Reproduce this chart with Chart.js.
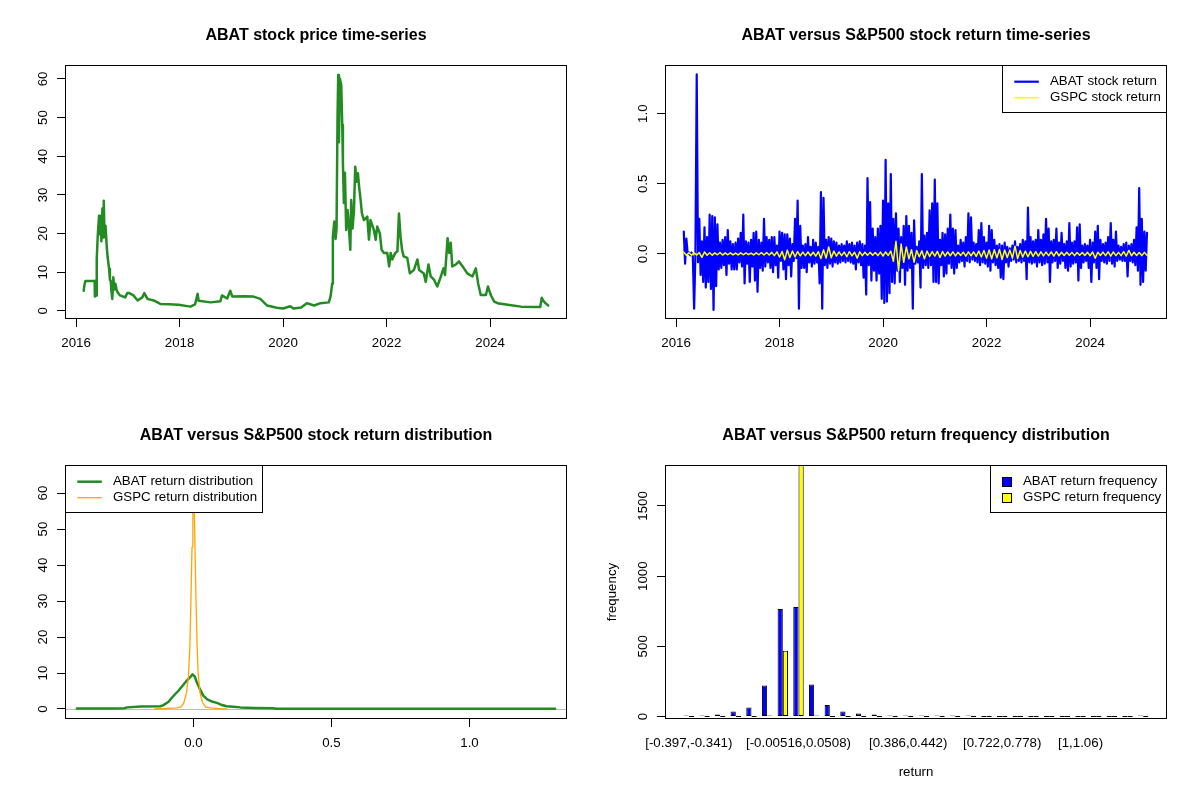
<!DOCTYPE html>
<html>
<head>
<meta charset="utf-8">
<script src="https://cdn.jsdelivr.net/npm/chart.js@4.4.1/dist/chart.umd.min.js"></script>
<style>
html,body{margin:0;padding:0;background:#fff;}
#wrap{position:relative;width:1200px;height:800px;background:#fff;}
#wrap canvas{position:absolute;}
</style>
</head>
<body>
<div id="wrap">
<canvas id="c1" width="600" height="400" style="left:0;top:0;width:600px;height:400px"></canvas>
<canvas id="c2" width="600" height="400" style="left:600px;top:0;width:600px;height:400px"></canvas>
<canvas id="c3" width="600" height="400" style="left:0;top:400px;width:600px;height:400px"></canvas>
<canvas id="c4" width="600" height="400" style="left:600px;top:400px;width:600px;height:400px"></canvas>
</div>
<script>
// ---------------- DATA ----------------
// Panel 1: ABAT stock price (dates as decimal years)
const priceYears = [2016.149,2016.16,2016.18,2016.36,2016.365,2016.39,2016.40,2016.42,2016.445,2016.46,2016.475,2016.49,2016.51,2016.525,2016.536,2016.55,2016.57,2016.594,2016.61,2016.639,2016.655,2016.67,2016.685,2016.70,2016.715,2016.72,2016.74,2016.76,2016.788,2016.82,2016.85,2016.95,2016.99,2017.03,2017.11,2017.19,2017.28,2017.32,2017.38,2017.50,2017.63,2017.8,2017.98,2018.21,2018.30,2018.35,2018.37,2018.6,2018.79,2018.82,2018.92,2018.98,2019.02,2019.24,2019.43,2019.56,2019.69,2019.88,2020.0,2020.14,2020.2,2020.35,2020.46,2020.6,2020.724,2020.885,2020.918,2020.95,2020.963,2020.99,2021.015,2021.034,2021.053,2021.067,2021.08,2021.098,2021.125,2021.144,2021.157,2021.176,2021.196,2021.22,2021.246,2021.27,2021.3,2021.317,2021.343,2021.37,2021.395,2021.42,2021.447,2021.47,2021.499,2021.524,2021.563,2021.628,2021.66,2021.69,2021.756,2021.79,2021.82,2021.87,2021.905,2021.95,2022.014,2022.05,2022.08,2022.11,2022.17,2022.21,2022.24,2022.27,2022.30,2022.33,2022.40,2022.45,2022.53,2022.596,2022.63,2022.72,2022.757,2022.81,2022.854,2022.92,2022.98,2023.05,2023.10,2023.13,2023.16,2023.18,2023.21,2023.24,2023.27,2023.34,2023.40,2023.47,2023.56,2023.66,2023.725,2023.77,2023.82,2023.92,2023.96,2024.015,2024.08,2024.145,2024.34,2024.6,2024.92,2024.97,2025.0,2025.035,2025.07,2025.125];
const priceValues = [5.2,6.5,7.7,7.7,3.7,4.0,13.4,19.5,24.6,19.8,24.5,18.0,26.5,19.0,28.5,20.0,22.0,16.5,14.0,10.9,8.0,7.8,5.0,3.1,6.5,8.7,5.5,7.0,5.2,4.5,4.0,3.5,4.6,4.6,4.0,2.7,3.5,4.6,3.1,2.7,1.8,1.7,1.6,1.1,1.7,4.4,2.6,2.2,2.5,4.0,3.2,5.2,3.7,3.8,3.7,3.1,1.4,0.8,0.6,1.2,0.6,0.9,2.0,1.4,2.0,2.2,3.7,7.1,19.2,23.1,18.6,21.3,50.2,61.0,43.6,60.1,58.3,48.1,38.3,27.9,35.7,20.9,26.1,22.3,15.8,28.7,21.3,25.8,37.3,33.4,35.6,32.1,28.7,25.2,23.5,24.4,18.4,23.5,20.9,18.4,21.8,20.1,15.8,15.0,15.0,11.5,15.0,13.3,15.0,15.4,25.2,19.2,15.8,14.1,13.7,9.7,10.6,13.3,10.6,9.7,7.5,12.0,8.9,8.0,6.3,8.9,11.0,9.3,15.0,18.8,15.0,17.6,11.5,12.0,12.8,11.5,9.7,8.9,11.0,7.1,4.1,4.1,6.3,4.1,2.4,2.0,1.6,1.1,1.0,1.0,3.4,2.5,2.0,1.4];
const yearTicks = [2016, 2018, 2020, 2022, 2024];
const priceTicks = [0, 10, 20, 30, 40, 50, 60];

// Panel 2: returns, observation dates start at returnStartYear with a fixed sampling step
const returnStartYear = 2016.15;
const abatReturnStep = 0.025;
const abatReturns = [
0.16,-0.07,0.11,0.0,0.01,-0.01,0.01,-0.02,-0.39,0.0,
1.28,-0.06,0.25,-0.15,0.09,-0.2,0.19,-0.24,0.12,-0.2,
0.28,-0.25,0.27,-0.4,0.26,-0.23,0.21,-0.11,0.08,-0.1,
0.1,-0.08,0.12,-0.15,0.17,-0.07,0.09,-0.11,0.07,-0.11,
0.08,-0.11,0.11,-0.06,0.15,-0.09,0.28,-0.21,0.09,-0.07,
0.08,-0.2,0.1,-0.09,0.15,-0.19,0.16,-0.27,0.1,-0.1,
0.08,-0.12,0.25,-0.09,0.12,-0.06,0.1,-0.1,0.12,-0.13,
0.12,-0.08,0.06,-0.17,0.16,-0.05,0.15,-0.11,0.14,-0.18,
0.14,-0.08,0.11,-0.16,0.07,-0.05,0.25,-0.03,0.38,-0.39,
0.2,-0.1,0.06,-0.1,0.07,-0.13,0.12,-0.06,0.05,-0.09,
0.1,-0.07,0.08,-0.06,0.05,-0.21,0.44,-0.39,0.4,-0.08,
0.1,-0.1,0.12,-0.07,0.11,-0.09,0.09,-0.06,0.08,-0.07,
0.06,-0.06,0.07,-0.05,0.06,-0.06,0.09,-0.05,0.07,-0.06,
0.08,-0.07,0.06,-0.11,0.08,-0.06,0.09,-0.08,0.07,-0.17,
0.06,-0.29,0.54,-0.08,0.37,-0.19,0.18,-0.12,0.12,-0.19,
0.18,-0.14,0.2,-0.32,0.38,-0.35,0.67,-0.34,0.36,-0.28,
0.57,-0.2,0.25,-0.21,0.29,-0.12,0.18,-0.2,0.12,-0.1,
0.2,-0.22,0.27,-0.12,0.2,-0.1,0.15,-0.39,0.24,-0.07,
0.05,-0.06,0.09,-0.24,0.57,-0.1,0.13,-0.08,0.15,-0.1,
0.31,-0.08,0.36,-0.2,0.53,-0.2,0.36,-0.21,0.1,-0.08,
0.15,-0.16,0.14,-0.14,0.18,-0.07,0.28,-0.1,0.18,-0.14,
0.17,-0.1,0.06,-0.06,0.1,-0.05,0.08,-0.09,0.12,-0.05,
0.29,-0.06,0.26,-0.04,0.08,-0.05,0.07,-0.06,0.17,-0.08,
0.22,-0.06,0.12,-0.07,0.08,-0.09,0.2,-0.12,0.17,-0.06,
0.1,-0.08,0.06,-0.1,0.07,-0.17,0.06,-0.18,0.08,-0.06,
0.05,-0.09,0.04,-0.05,0.06,-0.04,0.09,-0.06,0.05,-0.05,
0.07,-0.06,0.1,-0.05,0.09,-0.18,0.33,-0.06,0.12,-0.07,
0.09,-0.06,0.1,-0.09,0.17,-0.06,0.1,-0.08,0.14,-0.07,
0.25,-0.06,0.18,-0.2,0.09,-0.06,0.1,-0.05,0.18,-0.1,
0.08,-0.07,0.15,-0.05,0.07,-0.1,0.09,-0.12,0.22,-0.09,
0.08,-0.07,0.09,-0.06,0.19,-0.19,0.21,-0.1,0.06,-0.06,
0.07,-0.05,0.06,-0.1,0.1,-0.2,0.08,-0.06,0.16,-0.1,
0.2,-0.18,0.1,-0.05,0.07,-0.06,0.08,-0.07,0.12,-0.05,
0.22,-0.07,0.1,-0.09,0.16,-0.05,0.06,-0.04,0.05,-0.05,
0.07,-0.05,0.08,-0.16,0.06,-0.05,0.07,-0.06,0.1,-0.08,
0.19,-0.12,0.47,-0.22,0.25,-0.2,0.16,-0.12,0.15];
const gspcReturnStep = 0.05;
const gspcReturns = [
0.012,-0.010,0.008,-0.009,0.007,-0.008,0.009,-0.025,0.014,-0.010,
0.008,-0.009,0.007,-0.006,0.010,-0.008,0.007,-0.006,0.008,-0.007,
0.006,-0.007,0.008,-0.006,0.007,-0.005,0.006,-0.007,0.008,-0.006,
0.009,-0.008,0.010,-0.008,0.011,-0.012,0.015,-0.022,0.017,-0.041,
0.027,-0.025,0.020,-0.020,0.016,-0.014,0.013,-0.012,0.014,-0.013,
0.012,-0.015,0.016,-0.033,0.030,-0.030,0.050,-0.027,0.020,-0.016,
0.014,-0.012,0.013,-0.020,0.016,-0.014,0.012,-0.030,0.015,-0.012,
0.012,-0.010,0.011,-0.009,0.010,-0.012,0.013,-0.015,0.014,-0.011,
0.020,-0.052,0.090,-0.120,0.070,-0.060,0.050,-0.035,0.030,-0.059,
0.025,-0.020,0.022,-0.035,0.020,-0.018,0.016,-0.015,0.018,-0.025,
0.017,-0.015,0.014,-0.013,0.015,-0.014,0.012,-0.011,0.013,-0.016,
0.015,-0.013,0.014,-0.018,0.020,-0.022,0.025,-0.030,0.028,-0.035,
0.030,-0.028,0.032,-0.040,0.028,-0.025,0.027,-0.030,0.055,-0.033,
0.025,-0.022,0.020,-0.020,0.018,-0.017,0.016,-0.015,0.015,-0.014,
0.013,-0.012,0.014,-0.015,0.016,-0.013,0.012,-0.011,0.012,-0.010,
0.011,-0.012,0.010,-0.009,0.010,-0.011,0.012,-0.013,0.014,-0.030,
0.012,-0.011,0.013,-0.012,0.015,-0.016,0.014,-0.012,0.011,-0.012,
0.016,-0.015,0.025,-0.013,0.012,-0.011,0.010,-0.012,0.011,-0.010];
const returnTicks = [0, 0.5, 1.0];

// Panel 3: return densities
const abatDensX = [-0.422,-0.35,-0.3,-0.25,-0.24,-0.19,-0.12,-0.11,-0.09,-0.075,-0.055,-0.04,-0.025,-0.01,-0.003,0.005,0.012,0.025,0.035,0.05,0.07,0.085,0.1,0.12,0.145,0.17,0.22,0.29,0.3,0.38,0.5,0.8,1.0,1.31];
const abatDensY = [0.15,0.15,0.15,0.2,0.45,0.7,0.75,1.0,2.0,3.4,5.0,6.4,7.8,9.0,9.6,9.0,7.5,5.3,3.8,2.7,2.0,1.7,1.2,0.75,0.6,0.45,0.3,0.2,0.1,0.1,0.08,0.08,0.08,0.08];
const gspcDensX = [-0.14,-0.1,-0.06,-0.045,-0.035,-0.025,-0.018,-0.013,-0.009,-0.005,-0.002,0,0.002,0.005,0.009,0.013,0.017,0.024,0.033,0.045,0.06,0.08,0.1,0.12];
const gspcDensY = [0,0.15,0.3,0.6,1.6,4.5,9,17,30,45,60,65,62,48,32,19,10,4.5,1.8,0.5,0.3,0.2,0.05,0];
const densXTicks = [0, 0.5, 1.0];
const densYTicks = [0, 10, 20, 30, 40, 50, 60];

// Panel 4: return frequency histogram
const binLabels = ["[-0.397,-0.341)","[-0.341,-0.285)","[-0.285,-0.229)","[-0.229,-0.173)","[-0.173,-0.117)","[-0.117,-0.0611)","[-0.0611,-0.00516)","[-0.00516,0.0508)","[0.0508,0.107)","[0.107,0.163)","[0.163,0.219)","[0.219,0.274)","[0.274,0.33)","[0.33,0.386)","[0.386,0.442)","[0.442,0.498)","[0.498,0.554)","[0.554,0.61)","[0.61,0.666)","[0.666,0.722)","[0.722,0.778)","[0.778,0.834)","[0.834,0.89)","[0.89,0.945)","[0.945,1)","[1,1.06)","[1.06,1.11)","[1.11,1.17)","[1.17,1.23)","[1.23,1.28]"];
const shownBinLabels = [0, 7, 14, 20, 25];
const abatCounts = [7,7,14,36,64,221,766,780,228,81,36,21,14,6,4,3,3,2,1,0,0,0,0,0,0,0,0,0,0,1];
const gspcCounts = [0,0,0,0,0,3,468,1792,4,0,0,0,0,0,0,0,0,0,0,0,0,0,0,0,0,0,0,0,0,0];
const freqTicks = [0, 500, 1000, 1500];

// ---------------- STYLE / HELPERS ----------------
const FONT = "'Liberation Sans', Arial, Helvetica, sans-serif";
const TXT = 13.3;
Chart.defaults.font.family = FONT;
Chart.defaults.color = '#000';
Chart.defaults.animation = false;

const rBox = {
  id: 'rBox',
  afterDatasetsDraw(chart) {
    const {ctx, chartArea: a} = chart;
    const x0 = Math.floor(a.left) + 0.5, y0 = Math.floor(a.top) + 0.5;
    const x1 = Math.floor(a.right) - 0.5, y1 = Math.floor(a.bottom) - 0.5;
    ctx.save();
    ctx.strokeStyle = '#000'; ctx.lineWidth = 1;
    ctx.strokeRect(x0, y0, x1 - x0, y1 - y0);
    ctx.restore();
  }
};
const rLegend = {
  id: 'rLegend',
  afterDraw(chart, args, opts) {
    if (!opts || !opts.items) return;
    const {ctx, chartArea: a} = chart;
    const ds = opts.items.map(i => chart.data.datasets[i]);
    ctx.save();
    ctx.font = TXT + 'px ' + FONT;
    const tw = Math.max(...ds.map(d => ctx.measureText(d.label).width));
    const tx = opts.kind === 'fill' ? 33 : 48;
    const w = Math.round(tx + tw + 6), h = 48;
    const left = opts.side === 'right' ? Math.floor(a.right) - w : Math.floor(a.left);
    const top = Math.floor(a.top);
    ctx.fillStyle = '#fff';
    ctx.fillRect(left, top, w, h);
    ctx.strokeStyle = '#000'; ctx.lineWidth = 1;
    ctx.strokeRect(left + 0.5, top + 0.5, w - 1, h - 1);
    ds.forEach((d, k) => {
      const y = top + 16.7 + 16 * k;
      if (opts.kind === 'fill') {
        ctx.fillStyle = d.backgroundColor;
        ctx.fillRect(left + 12.5, Math.round(y) - 4.5, 9, 9);
        ctx.strokeStyle = '#000'; ctx.lineWidth = 1;
        ctx.strokeRect(left + 12.5, Math.round(y) - 4.5, 9, 9);
      } else {
        ctx.strokeStyle = d.borderColor; ctx.lineWidth = d.borderWidth;
        ctx.beginPath(); ctx.moveTo(left + 12.3, y); ctx.lineTo(left + 36.8, y); ctx.stroke();
      }
      ctx.fillStyle = '#000'; ctx.textAlign = 'left'; ctx.textBaseline = 'middle';
      ctx.fillText(d.label, left + tx, y);
    });
    ctx.restore();
  }
};
const zeroLine = {
  id: 'zeroLine',
  beforeDatasetsDraw(chart) {
    const {ctx, chartArea: a, scales} = chart;
    const y = Math.round(scales.y.getPixelForValue(0)) + 0.5;
    ctx.save();
    ctx.strokeStyle = '#BEBEBE'; ctx.lineWidth = 1;
    ctx.beginPath(); ctx.moveTo(a.left, y); ctx.lineTo(a.right, y); ctx.stroke();
    ctx.restore();
  }
};
Chart.register(rBox, rLegend);

const tickGrid = {drawOnChartArea: false, drawTicks: true, tickLength: 8, color: '#000', tickColor: '#000', lineWidth: 1};

function xScale(min, max, vals, fmt, extra) {
  return Object.assign({
    type: 'linear', min: min, max: max,
    afterBuildTicks: s => { s.ticks = vals.map(v => ({value: v})); },
    afterFit: s => { s.height = 81; },
    ticks: {autoSkip: false, minRotation: 0, maxRotation: 0, padding: 8, font: {size: TXT}, color: '#000', callback: v => fmt(v)},
    grid: tickGrid,
    border: {display: false}
  }, extra || {});
}
function yScale(min, max, vals, fmt, pad, extra) {
  return Object.assign({
    type: 'linear', min: min, max: max,
    afterBuildTicks: s => { s.ticks = vals.map(v => ({value: v})); },
    afterFit: s => { s.width = 65; },
    ticks: {autoSkip: false, minRotation: 90, maxRotation: 90, crossAlign: 'center', padding: pad, font: {size: TXT}, color: '#000', callback: v => fmt(v)},
    grid: tickGrid,
    border: {display: false}
  }, extra || {});
}
function baseOptions(title) {
  return {
    responsive: false, animation: false, events: [],
    layout: {padding: {left: 0, right: 33, top: 0, bottom: 0}},
    plugins: {
      legend: {display: false}, tooltip: {enabled: false},
      title: {display: true, fullSize: false, text: title, color: '#000', font: {size: 16, weight: 'bold', lineHeight: 1.2}, padding: {top: 26, bottom: 19.8}}
    }
  };
}
const lineDefaults = {pointRadius: 0, tension: 0, fill: false, borderJoinStyle: 'round', borderCapStyle: 'round'};
const fmtInt = v => String(v);
const fmt1 = v => Number(v).toFixed(1);

// ---------------- PANEL 1 ----------------
const o1 = baseOptions('ABAT stock price time-series');
o1.scales = {
  x: xScale(2015.787, 2025.487, yearTicks, fmtInt),
  y: yScale(-2.1, 63.6, priceTicks, fmtInt, 6)
};
new Chart(document.getElementById('c1'), {
  type: 'line',
  data: {datasets: [Object.assign({label: 'ABAT price', data: priceYears.map((t, i) => ({x: t, y: priceValues[i]})), borderColor: '#228B22', borderWidth: 2.5}, lineDefaults)]},
  options: o1
});

// ---------------- PANEL 2 ----------------
const o2 = baseOptions('ABAT versus S&P500 stock return time-series');
o2.scales = {
  x: xScale(2015.787, 2025.487, yearTicks, fmtInt),
  y: yScale(-0.464, 1.347, returnTicks, fmt1, 4)
};
o2.plugins.rLegend = {items: [0, 1], side: 'right', kind: 'line'};
new Chart(document.getElementById('c2'), {
  type: 'line',
  data: {datasets: [
    Object.assign({label: 'ABAT stock return', order: 1, data: abatReturns.map((r, i) => ({x: returnStartYear + i * abatReturnStep, y: r})), borderColor: '#0000FF', borderWidth: 2.2}, lineDefaults),
    Object.assign({label: 'GSPC stock return', order: 0, data: gspcReturns.map((r, i) => ({x: returnStartYear + i * gspcReturnStep, y: r})), borderColor: '#FFFF00', borderWidth: 1.5}, lineDefaults)
  ]},
  options: o2
});

// ---------------- PANEL 3 ----------------
const o3 = baseOptions('ABAT versus S&P500 stock return distribution');
o3.scales = {
  x: xScale(-0.465, 1.353, densXTicks, fmt1),
  y: yScale(-2.78, 67.8, densYTicks, fmtInt, 6)
};
o3.plugins.rLegend = {items: [0, 1], side: 'left', kind: 'line'};
new Chart(document.getElementById('c3'), {
  type: 'line',
  data: {datasets: [
    Object.assign({label: 'ABAT return distribution', order: 1, data: abatDensX.map((x, i) => ({x: x, y: abatDensY[i]})), borderColor: '#228B22', borderWidth: 2.5}, lineDefaults),
    Object.assign({label: 'GSPC return distribution', order: 0, data: gspcDensX.map((x, i) => ({x: x, y: gspcDensY[i]})), borderColor: '#FFA500', borderWidth: 1.3}, lineDefaults)
  ]},
  options: o3,
  plugins: [zeroLine]
});

// ---------------- PANEL 4 ----------------
const o4 = baseOptions('ABAT versus S&P500 return frequency distribution');
o4.scales = {
  x: xScale(-1.52, 30.52, shownBinLabels, v => binLabels[v], {
    offset: false,
    grid: {display: false, drawTicks: false},
    title: {display: true, text: 'return', font: {size: TXT}, color: '#000', padding: {top: 0, bottom: 19.5}}
  }),
  y: yScale(-18, 1792, freqTicks, fmtInt, -1, {
    title: {display: true, text: 'frequency', font: {size: TXT}, color: '#000', padding: {top: 4, bottom: 0}}
  })
};
o4.scales.x.ticks.padding = 16;
o4.plugins.rLegend = {items: [0, 1], side: 'right', kind: 'fill'};
const barStyle = {borderColor: '#000', borderWidth: 1, borderSkipped: false, minBarLength: 1, categoryPercentage: 2 / 3, barPercentage: 1};
new Chart(document.getElementById('c4'), {
  type: 'bar',
  data: {datasets: [
    Object.assign({label: 'ABAT return frequency', data: abatCounts.map((c, i) => ({x: i, y: c})), backgroundColor: '#0000FF'}, barStyle),
    Object.assign({label: 'GSPC return frequency', data: gspcCounts.map((c, i) => ({x: i, y: c})), backgroundColor: '#FFFF00'}, barStyle)
  ]},
  options: o4
});
</script>
</body>
</html>
